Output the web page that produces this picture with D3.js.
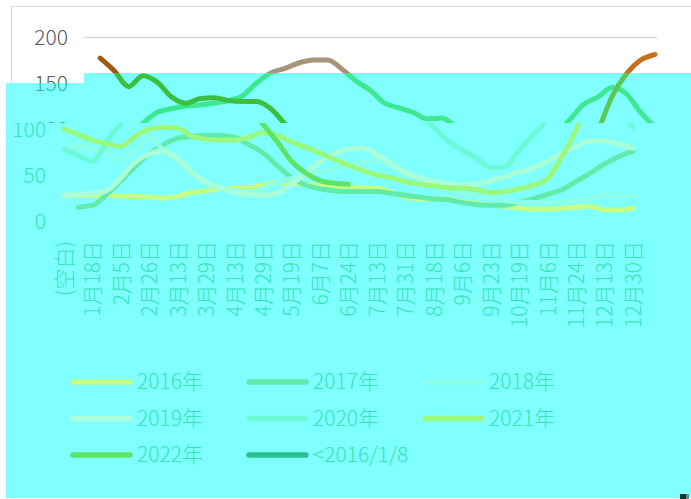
<!DOCTYPE html>
<html>
<head>
<meta charset="utf-8">
<script src="https://cdn.jsdelivr.net/npm/d3@7"></script>
<style>
  body { margin: 0; background: #fff; }
  svg text { font-family: "Noto Sans CJK SC", "Noto Sans", sans-serif; font-weight: 300; }
</style>
</head>
<body>
<div id="my_chart"></div>
<script>
// ---- data (one value every half label step) ----
const seriesNames = ["2016年", "2017年", "2018年", "2019年", "2020年", "2021年", "2022年", "<2016/1/8"];
const tickLabels = ["(空白)", "1月18日", "2月5日", "2月26日", "3月13日", "3月29日", "4月13日", "4月29日",
  "5月19日", "6月7日", "6月24日", "7月13日", "7月31日", "8月18日", "9月6日", "9月23日",
  "10月19日", "11月6日", "11月24日", "12月13日", "12月30日"];
const yTicks = [0, 50, 100, 150, 200];

const v2016 = [28,28,28,28,27,27,26,25,27,31,33,35,36,37,39,42,41,40,38,37,37,36,36,31,26,24,24,24,21,19,17,16,14,13,13,14,15,16,12,12,14];
const v2017 = [null,15,17,29,44,59,73,83,90,92,93,93,91,83,74,60,47,39,35,33,32,32,32,30,28,26,24,23,20,18,17,17,21,24,29,34,43,52,62,70,76];
const v2018 = [77,81,79,75,66,78,91,76,64,51,41,36,33,32,35,42,46,50,53,57,61,64,67,64,55,47,41,35,30,28,25,22,21,20,20,20,22,25,28,28,27];
const v2019 = [28,29,30,33,47,64,73,76,68,53,42,36,31,29,28,30,40,52,64,73,78,79,72,61,52,47,43,41,39,40,44,48,53,58,65,74,81,87,87,84,79];
const v2020 = [78,71,65,86,106,118,122,125,126,128,131,136,150,161,166,172,175,175,165,152,142,128,123,118,111,112,102,87,77,68,58,59,77,94,110,127,135,145,138,118,102];
const v2021 = [100,94,88,84,81,92,100,102,101,92,89,88,88,91,96,93,86,80,74,67,61,55,50,47,43,40,38,36,36,34,31,32,35,39,46,70,99,136,160,175,181];
const v2022 = [null,177,163,146,158,151,135,128,133,134,131,130,130,122,105,86,65,52,44,41,40,
  null,null,null,null,null,null,null,null,null,null,null,null,null,null,null,null,null,null,null,null];
const vBefore = [];

const seriesValues = [v2016, v2017, v2018, v2019, v2020, v2021, v2022, vBefore];

// ---- colours as they show in each strip of the picture ----
const topColors   = ["#b5d96a", "#4f9a6a", "#7fb0a0", "#a8c8a0", "#a89478", "#c8701e", "#a05a10", "#2a7050"];
const band1Colors = ["#b0f070", "#50d890", "#70f0d8", "#90f0c0", "#3ce890", "#5cc858", "#3cbf3c", "#20a070"];
const band2Colors = ["#c4ff84", "#62eaaa", "#8cffe8", "#aaffd8", "#6cfad6", "#9af87c", "#5ee464", "#2ac090"];

const chart = {
  specs : {
    width : 691,
    height : 499,
    plotLeft : 84,
    plotRight : 657,
    shift : -22          // lower strip is displaced to the left
  },
  svgEl : null,
  scales : null,
  initialize : () => {
    const {width, height} = chart.specs;
    chart.svgEl = d3.select("#my_chart")
      .append("svg")
      .attr("width", width)
      .attr("height", height);

    const x = d3.scaleLinear().domain([0, 40]).range([86, 655]);
    const y = d3.scaleLinear().domain([0, 200]).range([221, 37]);
    chart.scales = {x, y};

    const defs = chart.svgEl.append("defs");
    defs.append("clipPath").attr("id", "clipTop").append("path").attr("d", "M0,0H691V73H84V83H0Z");
    defs.append("clipPath").attr("id", "clipBand1").append("path").attr("d", "M84,73H691V123H6V83H84Z");
    defs.append("clipPath").attr("id", "clipBand2").append("path").attr("d", "M6,123H691V498H6Z");

    const svg = chart.svgEl;
    svg.append("rect").attr("width", width).attr("height", height).attr("fill", "#fff");

    // untouched top strip
    const gTop = svg.append("g").attr("clip-path", "url(#clipTop)");
    gTop.append("rect").attr("x", 11.5).attr("y", 6.5).attr("width", 720).attr("height", 600)
      .attr("fill", "none").attr("stroke", "#d9d9d9");
    chart.drawLayer(gTop, {text: "#595959", grid: "#d9d9d9", colors: topColors, ticks: [150, 200]});

    // cyan strip in place
    const gB1 = svg.append("g").attr("clip-path", "url(#clipBand1)");
    gB1.append("rect").attr("width", width).attr("height", height).attr("fill", "#7fffff");
    chart.drawLayer(gB1, {text: "#1fc39e", grid: "none", colors: band1Colors, ticks: [100, 150]});

    // cyan strip shifted left
    const gB2 = svg.append("g").attr("clip-path", "url(#clipBand2)");
    gB2.append("rect").attr("width", width).attr("height", height).attr("fill", "#7fffff");
    chart.drawLayer(gB2.append("g").attr("transform", "translate(" + chart.specs.shift + ",0)"),
      {text: "#36e4b4", grid: "none", colors: band2Colors, ticks: [0, 50, 100], labels: true});

    // stray pixels bottom right
    svg.append("rect").attr("x", 680).attr("y", 494).attr("width", 6).attr("height", 5).attr("fill", "#003d22");
    svg.append("rect").attr("x", 686).attr("y", 494).attr("width", 3).attr("height", 5).attr("fill", "#808080");
  },
  drawLayer : (g, pal) => {
    const {x, y} = chart.scales;
    const {plotLeft, plotRight} = chart.specs;

    // Y axis with the 200 gridline
    const gy = g.append("g")
      .attr("transform", "translate(" + plotLeft + ",0)")
      .call(d3.axisLeft(y).tickValues(yTicks.filter(t => pal.ticks.includes(t)))
        .tickSize(-(plotRight - plotLeft)).tickPadding(16));
    gy.select(".domain").remove();
    gy.selectAll("line").attr("stroke", pal.grid).attr("stroke-width", 1.5)
      .filter(d => d !== 200).remove();
    gy.selectAll("text").style("font-size", "21px").attr("fill", pal.text)
      .attr("dy", "0.35em").attr("font-family", null);

    // series
    const line = d3.line()
      .defined(d => d != null)
      .x((d, i) => x(i))
      .y(d => y(d))
      .curve(d3.curveMonotoneX);

    seriesValues.forEach((vals, i) => {
      if (!vals.length) return;
      g.append("path")
        .datum(vals)
        .attr("d", line)
        .attr("fill", "none")
        .attr("stroke", pal.colors[i])
        .attr("stroke-width", 5)
        .attr("stroke-linejoin", "round")
        .attr("stroke-linecap", "round");
    });

    if (!pal.labels) return;

    // X axis, rotated labels
    const gx = g.append("g")
      .attr("transform", "translate(0," + y(0) + ")")
      .call(d3.axisBottom(x).tickValues(d3.range(0, 41, 2)).tickFormat(d => tickLabels[d / 2]).tickSize(0));
    gx.select(".domain").remove();
    gx.selectAll("text")
      .attr("transform", "rotate(-90)")
      .attr("x", -20).attr("y", 0).attr("dy", "0.35em")
      .style("text-anchor", "end")
      .style("font-size", "21px")
      .attr("fill", pal.text)
      .attr("font-family", null);

    // legend
    const leg = g.append("g").selectAll("g").data(seriesNames).join("g")
      .attr("transform", (d, i) => "translate(" + (95 + 176 * (i % 3)) + "," + (382 + 36.5 * Math.floor(i / 3)) + ")");
    leg.append("line").attr("x1", 0).attr("x2", 57)
      .attr("stroke", (d, i) => pal.colors[i]).attr("stroke-width", 5.5).attr("stroke-linecap", "round");
    leg.append("text").attr("x", 64).attr("dy", "0.35em")
      .text(d => d).style("font-size", "21px").attr("fill", pal.text);
  }
};

document.addEventListener("DOMContentLoaded", chart.initialize());
</script>
</body>
</html>
